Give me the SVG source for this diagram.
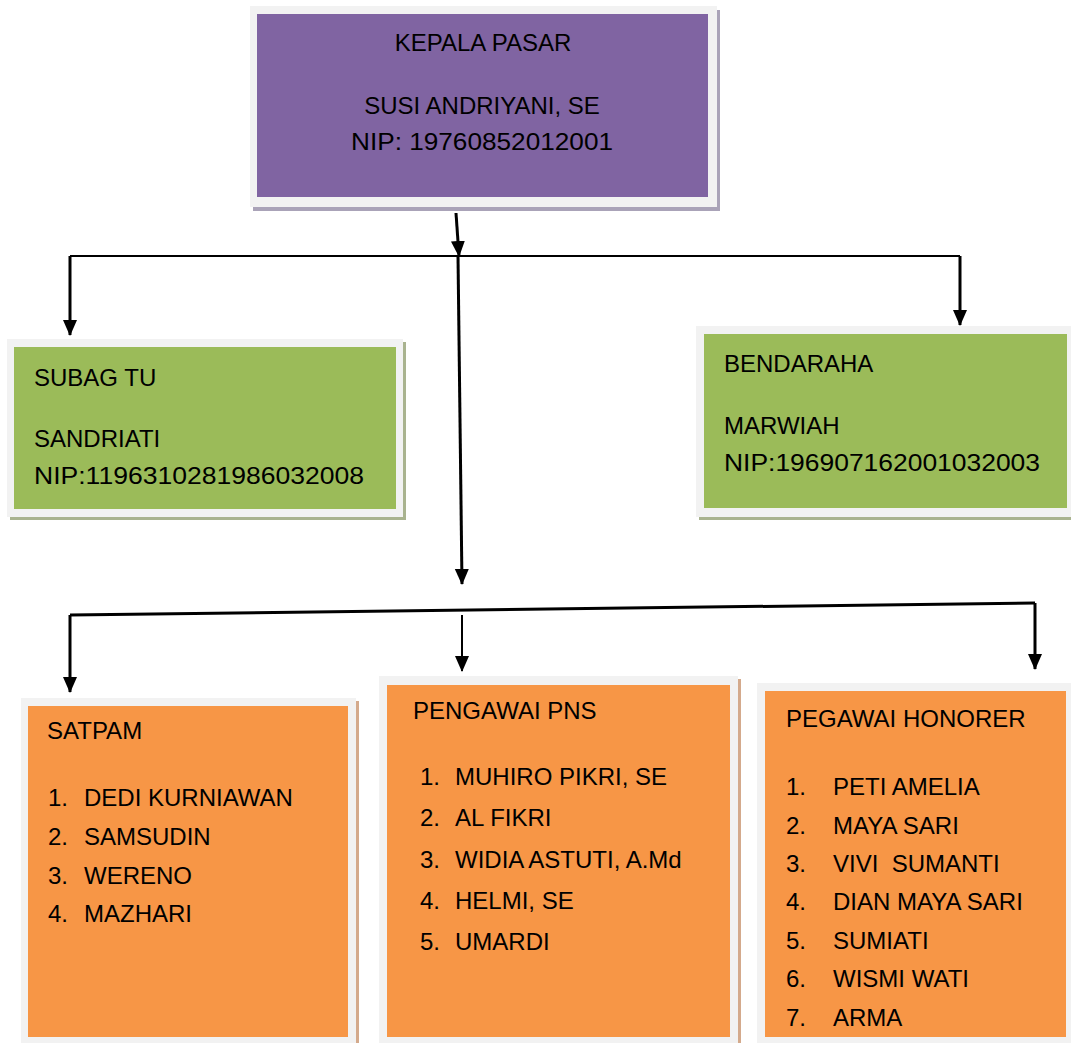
<svg xmlns="http://www.w3.org/2000/svg" width="1071" height="1043" viewBox="0 0 1071 1043">
<style>
text{font-family:"Liberation Sans",Arial,sans-serif;font-size:24px;fill:#000;white-space:pre}
.frame{fill:#f2f2f2}
.purple{fill:#8064a2}
.green{fill:#9bbb59}
.orange{fill:#f79646}
.conn{fill:none;stroke:#000;stroke-width:3}
.mid{text-anchor:middle}
</style>
<defs>
<marker id="ah" markerUnits="userSpaceOnUse" markerWidth="16" markerHeight="16" viewBox="0 0 16 16" refX="15" refY="8" orient="auto">
<path d="M0,1 L16,8 L0,15 z" fill="#000"/>
</marker>
</defs>
<rect width="1071" height="1043" fill="#fff"/>

<g id="kepala-pasar">
<rect x="253" y="10" width="467" height="201" fill="#aaa3b8"/>
<rect class="frame" x="250" y="6" width="467" height="201"/>
<rect class="purple" x="257" y="14" width="451" height="183"/>
<text class="mid" x="483" y="51">KEPALA PASAR</text>
<text class="mid" x="482" y="114">SUSI ANDRIYANI, SE</text>
<text class="mid" x="482" y="150" textLength="262" lengthAdjust="spacingAndGlyphs">NIP: 19760852012001</text>
</g>

<g id="subag-tu">
<rect x="10" y="342" width="396" height="178" fill="#a9b38f"/>
<rect class="frame" x="7" y="339" width="396" height="178"/>
<rect class="green" x="14" y="347" width="382" height="162"/>
<text x="34" y="386">SUBAG TU</text>
<text x="34" y="447">SANDRIATI</text>
<text x="34" y="484" textLength="330" lengthAdjust="spacingAndGlyphs">NIP:1196310281986032008</text>
</g>

<g id="bendaraha">
<rect x="699" y="329" width="380" height="191" fill="#a9b38f"/>
<rect class="frame" x="696" y="326" width="380" height="191"/>
<rect class="green" x="704" y="334" width="363" height="174"/>
<text x="724" y="372">BENDARAHA</text>
<text x="724" y="434">MARWIAH</text>
<text x="724" y="471" textLength="316" lengthAdjust="spacingAndGlyphs">NIP:196907162001032003</text>
</g>

<g id="satpam">
<rect x="24" y="701" width="335" height="350" fill="#d4aa8c"/>
<rect class="frame" x="21" y="698" width="335" height="350"/>
<rect class="orange" x="28" y="706" width="320" height="331"/>
<text x="47" y="739">SATPAM</text>
<text x="48" y="806">1.</text><text x="84" y="806">DEDI KURNIAWAN</text>
<text x="48" y="845">2.</text><text x="84" y="845">SAMSUDIN</text>
<text x="48" y="884">3.</text><text x="84" y="884">WERENO</text>
<text x="48" y="922">4.</text><text x="84" y="922">MAZHARI</text>
</g>

<g id="pegawai-pns">
<rect x="382" y="679" width="359" height="370" fill="#d4aa8c"/>
<rect class="frame" x="379" y="676" width="359" height="370"/>
<rect class="orange" x="387" y="685" width="343" height="352"/>
<text x="413" y="719">PENGAWAI PNS</text>
<text x="420" y="785">1.</text><text x="455" y="785">MUHIRO PIKRI, SE</text>
<text x="420" y="826">2.</text><text x="455" y="826">AL FIKRI</text>
<text x="420" y="868">3.</text><text x="455" y="868">WIDIA ASTUTI, A.Md</text>
<text x="420" y="909">4.</text><text x="455" y="909">HELMI, SE</text>
<text x="420" y="950">5.</text><text x="455" y="950">UMARDI</text>
</g>

<g id="pegawai-honorer">
<rect x="760" y="686" width="320" height="370" fill="#d4aa8c"/>
<rect class="frame" x="757" y="683" width="320" height="370"/>
<rect class="orange" x="765" y="691" width="301" height="346"/>
<text x="786" y="727">PEGAWAI HONORER</text>
<text x="786" y="795">1.</text><text x="833" y="795">PETI AMELIA</text>
<text x="786" y="834">2.</text><text x="833" y="834">MAYA SARI</text>
<text x="786" y="872">3.</text><text x="833" y="872">VIVI  SUMANTI</text>
<text x="786" y="910">4.</text><text x="833" y="910">DIAN MAYA SARI</text>
<text x="786" y="949">5.</text><text x="833" y="949">SUMIATI</text>
<text x="786" y="987">6.</text><text x="833" y="987">WISMI WATI</text>
<text x="786" y="1026">7.</text><text x="833" y="1026">ARMA</text>
</g>

<g id="connectors">
<path class="conn" d="M456,213 L459,256" marker-end="url(#ah)"/>
<path class="conn" style="stroke-width:2" d="M70,256 H960"/>
<path class="conn" d="M70,256 V335" marker-end="url(#ah)"/>
<path class="conn" d="M960,256 V325" marker-end="url(#ah)"/>
<path class="conn" d="M458,256 L462,584" marker-end="url(#ah)"/>
<path class="conn" d="M70,615 L1035,603"/>
<path class="conn" d="M70,615 V692" marker-end="url(#ah)"/>
<path class="conn" style="stroke-width:2" d="M462,615 V671" marker-end="url(#ah)"/>
<path class="conn" d="M1035,603 V669" marker-end="url(#ah)"/>
</g>
</svg>
